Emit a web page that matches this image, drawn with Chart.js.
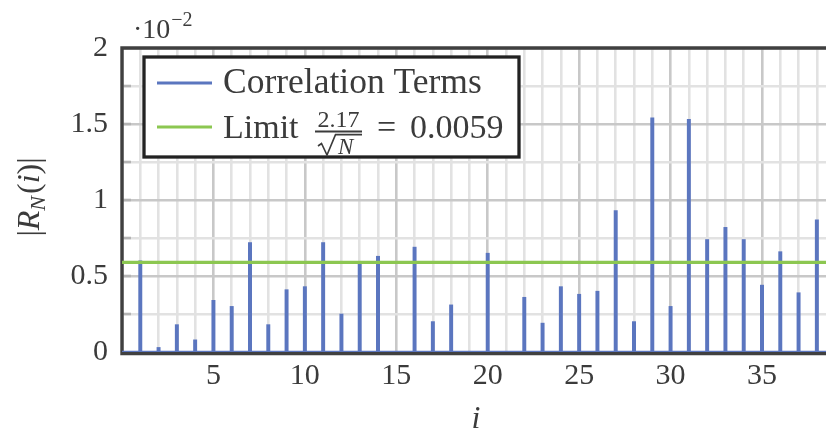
<!DOCTYPE html>
<html>
<head>
<meta charset="utf-8">
<script src="https://cdn.jsdelivr.net/npm/chart.js@4.4.1/dist/chart.umd.min.js"></script>
<style>
    html, body { margin: 0; padding: 0; background: #ffffff; }
    #wrap { width: 826px; height: 430px; position: relative; }
</style>
</head>
<body>
<div id="wrap"><canvas id="grafico" width="826" height="430"></canvas></div>
<script>
// lags i
const categorias = [1, 2, 3, 4, 5, 6, 7, 8, 9, 10, 11, 12, 13, 14, 15, 16, 17, 18, 19,
    20, 21, 22, 23, 24, 25, 26, 27, 28, 29, 30, 31, 32, 33, 34, 35, 36, 37, 38];

// |R_N(i)| in units of 10^-2
const correlacao = [0.60, 0.03, 0.18, 0.08, 0.34, 0.30, 0.72, 0.18, 0.41, 0.43,
    0.72, 0.25, 0.58, 0.63, 0.00, 0.69, 0.20, 0.31, 0.00, 0.65,
    0.00, 0.36, 0.19, 0.43, 0.38, 0.40, 0.93, 0.20, 1.54, 0.30,
    1.53, 0.74, 0.82, 0.74, 0.44, 0.66, 0.39, 0.87];

const limite = 0.59;          // 2.17 / sqrt(N), in units of 10^-2
const xLimites = [0, 38.5];
const xRotulos = [5, 10, 15, 20, 25, 30, 35];
const yRotulos = [0, 0.5, 1, 1.5, 2];

const AZUL = "#5b76bf";
const VERDE = "#8cc751";
const TEXTO = "#3b3b3b";
const SERIF = "'Liberation Serif', 'DejaVu Serif', serif";

/* =======================
   PLUGIN: frame, ticks, titles, legend
======================== */
const decoracao = {
    id: "decoracao",
    beforeDatasetsDraw(chart) {
        const ctx = chart.ctx;
        const a = chart.chartArea;
        const y = chart.scales.y;
        ctx.save();
        // small tick marks inside the left side
        ctx.strokeStyle = "#b4b4b4";
        ctx.lineWidth = 2.6;
        for (let v = 0.25; v < 2; v += 0.25) {
            const py = y.getPixelForValue(v);
            ctx.beginPath();
            ctx.moveTo(a.left, py);
            ctx.lineTo(a.left + 9, py);
            ctx.stroke();
        }
        // frame (right side is cut off in the picture)
        ctx.strokeStyle = "#404040";
        ctx.lineWidth = 3.4;
        ctx.beginPath();
        ctx.moveTo(a.right + 2, a.top);
        ctx.lineTo(a.left, a.top);
        ctx.lineTo(a.left, a.bottom + 1.5);
        ctx.lineTo(a.right + 2, a.bottom + 1.5);
        ctx.stroke();
        ctx.restore();
    },
    afterDraw(chart) {
        const ctx = chart.ctx;
        const a = chart.chartArea;
        ctx.save();
        ctx.fillStyle = TEXTO;
        ctx.textBaseline = "alphabetic";

        // exponent label
        ctx.font = "28px " + SERIF;
        ctx.textAlign = "left";
        ctx.fillText("\u00b710", 133, 38);
        const w10 = ctx.measureText("\u00b710").width;
        ctx.font = "20px " + SERIF;
        ctx.fillText("\u22122", 133 + w10 + 1, 26);

        // x title
        ctx.font = "italic 32px " + SERIF;
        ctx.textAlign = "center";
        ctx.fillText("i", (a.left + a.right) / 2 + 2, 428);

        // y title |R_N(i)|
        const partes = [
            ["|", "32px ", 0], ["R", "italic 32px ", 0], ["N", "italic 22px ", 6],
            ["(", "32px ", 0], ["i", "italic 32px ", 0], [")", "32px ", 0], ["|", "32px ", 0]
        ];
        let total = 0;
        partes.forEach(p => {
            ctx.font = p[1] + SERIF;
            p.push(ctx.measureText(p[0]).width + (p[0] === "N" ? 2 : 0));
            total += p[3];
        });
        ctx.translate(39, 197);
        ctx.rotate(-Math.PI / 2);
        ctx.textAlign = "left";
        let px = -total / 2;
        partes.forEach(p => {
            ctx.font = p[1] + SERIF;
            ctx.fillText(p[0], px, p[2]);
            px += p[3];
        });
        ctx.setTransform(1, 0, 0, 1, 0, 0);

        // legend
        ctx.fillStyle = "#ffffff";
        ctx.fillRect(144, 57, 375, 100);
        ctx.strokeStyle = "#222222";
        ctx.lineWidth = 3.3;
        ctx.strokeRect(144, 57, 375, 100);

        ctx.lineWidth = 3;
        ctx.strokeStyle = AZUL;
        ctx.beginPath(); ctx.moveTo(157, 83); ctx.lineTo(212, 83); ctx.stroke();
        ctx.strokeStyle = VERDE;
        ctx.beginPath(); ctx.moveTo(157, 127); ctx.lineTo(212, 127); ctx.stroke();

        ctx.fillStyle = TEXTO;
        ctx.textAlign = "left";
        ctx.font = "35.5px " + SERIF;
        ctx.fillText("Correlation Terms", 223, 93);
        ctx.font = "34px " + SERIF;
        ctx.fillText("Limit", 223, 138);
        ctx.fillText("=", 377, 138);
        ctx.fillText("0.0059", 410, 138);

        // fraction 2.17 / sqrt(N)
        ctx.font = "24px " + SERIF;
        ctx.textAlign = "center";
        ctx.fillText("2.17", 338.5, 127);
        ctx.strokeStyle = TEXTO;
        ctx.lineWidth = 2;
        ctx.beginPath(); ctx.moveTo(315, 131.5); ctx.lineTo(362, 131.5); ctx.stroke();
        // radical sign + overline
        ctx.lineWidth = 1.6;
        ctx.lineJoin = "miter";
        ctx.beginPath();
        ctx.moveTo(318, 146);
        ctx.lineTo(321.5, 143.5);
        ctx.lineTo(327, 155);
        ctx.lineTo(335.5, 134.6);
        ctx.lineTo(362, 134.6);
        ctx.stroke();
        ctx.textAlign = "left";
        ctx.font = "italic 23px " + SERIF;
        ctx.fillText("N", 338, 153.5);

        ctx.restore();
    }
};

function corGrade(ctx, principal) {
    return principal ? "#c8c8c8" : "#e2e2e2";
}

/* =======================
   CHART
======================== */
const ctx = document.getElementById("grafico").getContext("2d");

new Chart(ctx, {
    type: "bar",
    data: {
        datasets: [
            {
                type: "line",
                label: "Limit",
                data: xLimites.map(x => ({ x: x, y: limite })),
                borderColor: VERDE,
                borderWidth: 3.3,
                pointRadius: 0,
                order: 1
            },
            {
                type: "line",
                label: "base",
                data: xLimites.map(x => ({ x: x, y: 0 })),
                borderColor: AZUL,
                borderWidth: 2.6,
                pointRadius: 0,
                order: 1
            },
            {
                type: "bar",
                label: "Correlation Terms",
                data: categorias.map((c, i) => ({ x: c, y: correlacao[i] })),
                backgroundColor: AZUL,
                barThickness: 3.3,
                order: 2
            }
        ]
    },
    options: {
        responsive: false,
        animation: false,
        layout: { padding: { top: 48, left: 0, right: 0, bottom: 0 } },
        plugins: {
            legend: { display: false },
            tooltip: { enabled: false }
        },
        scales: {
            x: {
                type: "linear",
                offset: false,
                min: xLimites[0],
                max: xLimites[1],
                afterBuildTicks: (scale) => {
                    scale.ticks = [0].concat(categorias).map(v => ({ value: v }));
                },
                afterFit: (scale) => { scale.height = 78; },
                ticks: {
                    autoSkip: false,
                    maxRotation: 0,
                    padding: 6,
                    color: TEXTO,
                    font: { family: SERIF, size: 30 },
                    callback: (v) => xRotulos.includes(v) ? String(v) : ""
                },
                grid: {
                    offset: false,
                    drawTicks: false,
                    lineWidth: 2.6,
                    color: (c) => corGrade(c, c.tick && c.tick.value % 5 === 0)
                },
                border: { display: false }
            },
            y: {
                min: 0,
                max: 2,
                afterBuildTicks: (scale) => {
                    const t = [];
                    for (let k = 0; k <= 8; k++) t.push({ value: k * 0.25 });
                    scale.ticks = t;
                },
                afterFit: (scale) => { scale.width = 122; },
                ticks: {
                    autoSkip: false,
                    padding: 14,
                    color: TEXTO,
                    font: { family: SERIF, size: 30 },
                    callback: (v) => yRotulos.includes(v) ? String(v) : ""
                },
                grid: {
                    drawTicks: false,
                    lineWidth: 2.6,
                    color: (c) => corGrade(c, c.tick && c.tick.value % 0.5 === 0)
                },
                border: { display: false }
            }
        }
    },
    plugins: [decoracao]
});
</script>
</body>
</html>
